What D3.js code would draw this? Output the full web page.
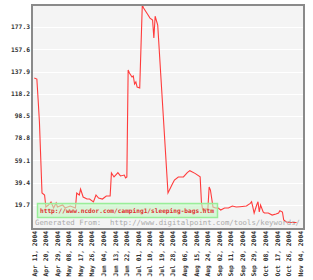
<!DOCTYPE html>
<html>
<head>
  <meta charset="UTF-8">
  <title>Keyword trend</title>
  <style>
    body { margin: 0; background: #fff; }
    text { font-family: "DejaVu Sans Mono", monospace; }
  </style>
</head>
<body>
<svg id="chart"></svg>
<script src="https://d3js.org/d3.v7.min.js"></script>
<script>

// daily counts
var dates = ["Apr 11, 2004","Apr 13, 2004","Apr 14, 2004","Apr 15, 2004","Apr 17, 2004","Apr 19, 2004",
  "Apr 20, 2004","Apr 22, 2004","Apr 24, 2004","Apr 26, 2004","Apr 28, 2004","Apr 29, 2004",
  "May 03, 2004","May 05, 2004","May 09, 2004","May 13, 2004","May 14, 2004","May 16, 2004",
  "May 17, 2004","May 19, 2004","May 22, 2004","May 24, 2004","May 27, 2004","May 29, 2004",
  "May 31, 2004","Jun 03, 2004","Jun 06, 2004","Jun 09, 2004","Jun 10, 2004","Jun 12, 2004",
  "Jun 14, 2004","Jun 15, 2004","Jun 17, 2004","Jun 20, 2004","Jun 21, 2004","Jun 22, 2004",
  "Jun 23, 2004","Jun 24, 2004","Jun 26, 2004","Jun 27, 2004","Jun 28, 2004","Jun 29, 2004",
  "Jun 30, 2004","Jul 02, 2004","Jul 04, 2004","Jul 05, 2004","Jul 08, 2004","Jul 10, 2004",
  "Jul 12, 2004","Jul 13, 2004","Jul 14, 2004","Jul 16, 2004","Jul 24, 2004","Jul 27, 2004",
  "Jul 29, 2004","Aug 01, 2004","Aug 05, 2004","Aug 08, 2004","Aug 10, 2004","Aug 14, 2004",
  "Aug 18, 2004","Aug 19, 2004","Aug 20, 2004","Aug 22, 2004","Aug 24, 2004","Aug 25, 2004",
  "Aug 26, 2004","Aug 28, 2004","Aug 30, 2004","Sep 01, 2004","Sep 03, 2004","Sep 06, 2004",
  "Sep 09, 2004","Sep 12, 2004","Sep 15, 2004","Sep 18, 2004","Sep 23, 2004","Sep 26, 2004",
  "Sep 27, 2004","Sep 28, 2004","Sep 29, 2004","Oct 01, 2004","Oct 02, 2004","Oct 03, 2004",
  "Oct 04, 2004","Oct 06, 2004","Oct 07, 2004","Oct 10, 2004","Oct 13, 2004","Oct 16, 2004",
  "Oct 18, 2004","Oct 19, 2004","Oct 21, 2004","Oct 22, 2004","Oct 24, 2004","Oct 27, 2004",
  "Nov 01, 2004"];
var counts = [132.2,131.3,112.7,93.2,30.2,28.4,
  17.7,19.5,22.2,16.9,21.3,17.7,
  19.5,16.9,18.6,16.9,30.2,28.4,
  33.7,26.6,24.8,24.8,22.2,28.4,
  25.7,24.8,27.5,27.5,47.9,44.4,
  47.0,48.2,45.3,46.1,43.5,44.4,
  139.3,136.6,133.1,134.0,126.9,128.7,
  124.2,123.3,197.0,194.3,189.0,185.4,
  183.7,167.7,187.0,179.2,30.2,37.3,
  41.7,44.4,44.4,48.2,50.0,47.6,
  44.6,22.2,15.1,16.0,16.0,35.5,
  32.8,17.7,16.9,16.9,15.1,16.9,
  16.9,18.6,17.7,18.0,18.6,21.0,
  22.4,17.7,12.4,19.5,22.4,13.3,
  19.5,13.3,12.4,12.4,10.6,11.5,
  12.4,14.5,13.3,6.2,4.4,4.0,
  4.0];

var yTicks = [19.7, 39.4, 59.1, 78.8, 98.5, 118.2, 137.9, 157.6, 177.3];
var xTicks = ["Apr 11, 2004","Apr 20, 2004","Apr 29, 2004","May 08, 2004","May 17, 2004","May 26, 2004",
  "Jun 04, 2004","Jun 13, 2004","Jun 22, 2004","Jul 01, 2004","Jul 10, 2004","Jul 19, 2004",
  "Jul 28, 2004","Aug 06, 2004","Aug 15, 2004","Aug 24, 2004","Sep 02, 2004","Sep 11, 2004",
  "Sep 20, 2004","Sep 29, 2004","Oct 08, 2004","Oct 17, 2004","Oct 26, 2004","Nov 04, 2004"];

var width = 313, height = 280;
var parse = d3.utcParse("%b %d, %Y");

var svg = d3.select("#chart")
    .attr("width", width)
    .attr("height", height);

var x = d3.scaleUtc()
    .domain([parse("Apr 10, 2004"), parse("Nov 06, 2004")])
    .range([33, 303]);

var y = d3.scaleLinear()
    .domain([0, 197])
    .range([227, 5]);

// plot background
svg.append("rect")
    .attr("x", 32).attr("y", 5)
    .attr("width", 272).attr("height", 224)
    .attr("fill", "#f4f4f4");

// white gridlines
svg.append("g")
    .selectAll("line")
    .data(yTicks)
    .enter()
    .append("line")
    .attr("x1", 33).attr("x2", 303)
    .attr("y1", d => Math.round(y(d)) + 0.5)
    .attr("y2", d => Math.round(y(d)) + 0.5)
    .attr("stroke", "#ffffff")
    .attr("stroke-width", 1);

// y labels
svg.append("g")
    .selectAll("text")
    .data(yTicks)
    .enter()
    .append("text")
    .attr("x", 30)
    .attr("y", d => y(d))
    .attr("dy", "0.35em")
    .attr("text-anchor", "end")
    .attr("font-size", 6.3)
    .attr("font-weight", "bold")
    .attr("fill", "#333")
    .text(d => d.toFixed(1));

// x labels, rotated
svg.append("g")
    .selectAll("text")
    .data(xTicks)
    .enter()
    .append("text")
    .attr("transform", d => "translate(" + x(parse(d)) + ",231) rotate(-90)")
    .attr("dy", "0.35em")
    .attr("text-anchor", "end")
    .attr("font-size", 6.3)
    .attr("font-weight", "bold")
    .attr("fill", "#333")
    .text(d => d);

var series = dates.map((d, i) => ({date: parse(d), value: counts[i]}));

svg.append("path")
    .datum(series)
    .attr("fill", "none")
    .attr("stroke", "#ff3b3b")
    .attr("stroke-width", 1.1)
    .attr("d", d3.line().x(d => x(d.date)).y(d => y(d.value)));

// watermark box over the line
svg.append("rect")
    .attr("x", 37.5).attr("y", 203.5)
    .attr("width", 180).attr("height", 14)
    .attr("fill", "#c4f7c4")
    .attr("fill-opacity", 0.6)
    .attr("stroke", "#99ee99")
    .attr("stroke-width", 1.5);

svg.append("text")
    .attr("x", 40).attr("y", 212.5)
    .attr("font-size", 6.2)
    .attr("font-weight", "bold")
    .attr("fill", "#e03030")
    .attr("textLength", 174)
    .text("http://www.ncdor.com/camping1/sleeping-bags.htm");

svg.append("text")
    .attr("x", 35).attr("y", 225)
    .attr("font-size", 7.3)
    .attr("fill", "#aaaaaa")
    .attr("textLength", 265)
    .attr("xml:space", "preserve")
    .style("white-space", "pre")
    .text("Generated From:  http://www.digitalpoint.com/tools/keywords/");

// frame
svg.append("rect")
    .attr("x", 32).attr("y", 5)
    .attr("width", 272).attr("height", 224)
    .attr("fill", "none")
    .attr("stroke", "#8a8a8a")
    .attr("stroke-width", 2);

</script>
</body>
</html>
